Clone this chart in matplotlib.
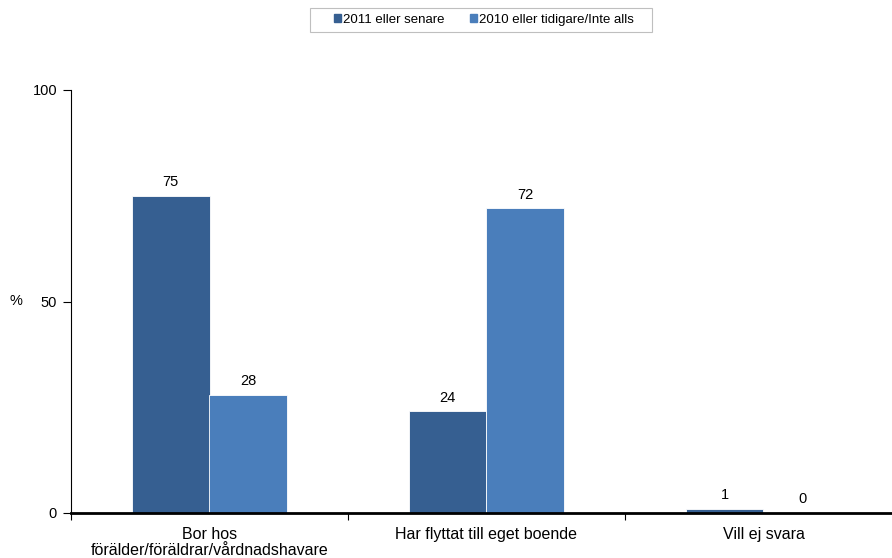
import numpy as np
import matplotlib
matplotlib.use("Agg")
from matplotlib import pyplot as plt
from matplotlib.patches import Rectangle

plt.rcParams['font.family'] = ['Liberation Sans', 'DejaVu Sans']

categories = ['Bor hos\nförälder/föräldrar/vårdnadshavare',
              'Har flyttat till eget boende',
              'Vill ej svara']
series_names = ['2011 eller senare', '2010 eller tidigare/Inte alls']
vals_2011 = [75, 24, 1]
vals_2010 = [28, 72, 0]
colors = ['#365F91', '#4A7EBB']

fig = plt.figure(figsize=(8.92, 5.58), dpi=100)
# axes extends slightly past the right edge like the original
ax = fig.add_axes([71/892, 1 - 513/558, 831/892, (513 - 90)/558])

x = np.arange(len(categories)) + 0.5
w = 0.28
for i, (vals, c) in enumerate(zip([vals_2011, vals_2010], colors)):
    pos = x + (i - 0.5) * w
    ax.bar(pos, vals, w, color=c, edgecolor='white', linewidth=0.6,
           label=series_names[i], zorder=2)
    for xp, v in zip(pos, vals):
        ax.text(xp, v + 1.6, str(v), ha='center', va='bottom', fontsize=10.5)

ax.set_xlim(0, 3)
ax.set_ylim(0, 100)
ax.set_yticks([0, 50, 100])
ax.tick_params(axis='y', labelsize=10.5, length=6, width=0.8, pad=4)
ax.set_xticks([0, 1, 2, 3])
ax.set_xticklabels([])
ax.set_xticks(x, minor=True)
ax.set_xticklabels(categories, minor=True, linespacing=1.12)
ax.tick_params(axis='x', which='minor', length=0, labelsize=11.5, pad=10)
ax.tick_params(axis='x', which='major', length=5, width=0.8, direction='out')

ax.spines['top'].set_visible(False)
ax.spines['right'].set_visible(False)
ax.spines['bottom'].set_linewidth(2)
ax.spines['left'].set_linewidth(0.8)

fig.text(10/892, 1 - 301/558, '%', fontsize=10.5, va='center', ha='left')

# legend box drawn separately so it can be wider than the entries
fig.patches.append(Rectangle((310/892, 1 - 32/558), 342/892, 24/558,
                             transform=fig.transFigure, facecolor='white',
                             edgecolor='#BFBFBF', linewidth=0.8))
handles = [Rectangle((0, 0), 1, 1, color=c) for c in colors]
leg = fig.legend(handles, series_names, loc='center', bbox_to_anchor=(484/892, 1 - 20/558),
                 ncol=2, fontsize=9.5, frameon=False,
                 handlelength=0.55, handleheight=0.55, handletextpad=0.15,
                 columnspacing=1.9, borderpad=0.3)

plt.savefig('out.png', dpi=100)
